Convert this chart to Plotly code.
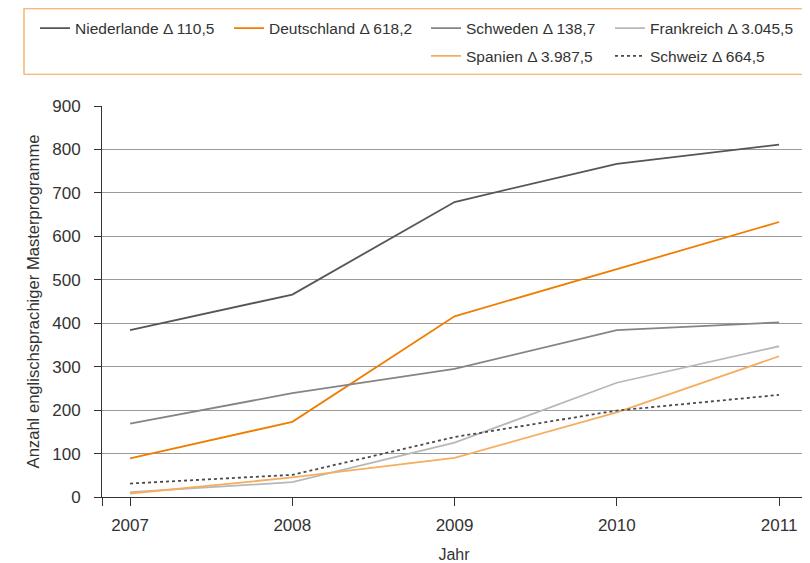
import plotly.graph_objects as go

# Jahre und Anzahl englischsprachiger Masterprogramme je Land
years = [2007, 2008, 2009, 2010, 2011]
niederlande = [384, 466, 679, 767, 811]
deutschland = [89, 173, 416, 525, 633]
schweden = [169, 239, 295, 384, 402]
frankreich = [11, 34, 125, 263, 347]
spanien = [8, 45, 90, 195, 324]
schweiz = [31, 51, 138, 199, 235]

names = ['Niederlande Δ 110,5', 'Deutschland Δ 618,2', 'Schweden Δ 138,7',
         'Frankreich Δ 3.045,5', 'Spanien Δ 3.987,5', 'Schweiz Δ 664,5']
series = [niederlande, deutschland, schweden, frankreich, spanien, schweiz]
colors = ['#555555', '#ef7d00', '#858585', '#b8b8b8', '#f6ad5f', '#4a4a4a']
dashes = ['solid', 'solid', 'solid', 'solid', 'solid', 'dot']

# page body has an 8px margin, so the figure is drawn 8px smaller/shifted
OFF = 8
W, H = 810 - OFF, 563 - OFF
ml, mr, mt, mb = 102 - OFF, 4, 103 - OFF, 66
ph = H - mt - mb
pw = W - ml - mr

x_lo, x_hi = 2006.827, 2011.166

# legend positions in page pixels (left of item, vertical centre)
leg_px = [(35, 25), (229, 25), (426, 25), (610, 25), (426, 53), (610, 53)]

FAM = 'Liberation Sans, Arial, sans-serif'
TXT = '#333333'

fig = go.Figure()
for i, (nm, ys) in enumerate(zip(names, series)):
    key = 'legend' if i == 0 else f'legend{i + 1}'
    fig.add_trace(go.Scatter(x=years, y=ys, name=nm, mode='lines',
                             line=dict(color=colors[i], width=1.8, dash=dashes[i]),
                             legend=key))

legends = {}
for i, (lx, ly) in enumerate(leg_px):
    key = 'legend' if i == 0 else f'legend{i + 1}'
    legends[key] = dict(x=(lx - OFF - ml) / pw, y=(H - mb - (ly - OFF)) / ph,
                        xanchor='left', yanchor='middle', orientation='h',
                        bgcolor='rgba(0,0,0,0)', borderwidth=0,
                        font=dict(family=FAM, color=TXT, size=15.5))

fig.update_layout(
    width=W, height=H,
    margin=dict(l=ml, r=mr, t=mt, b=mb),
    plot_bgcolor='white', paper_bgcolor='white',
    font=dict(family=FAM, color=TXT, size=17),
    showlegend=True,
    **legends,
    xaxis=dict(range=[x_lo, x_hi],
               tickvals=[x_lo] + years + [x_hi],
               ticktext=[''] + [str(y) for y in years] + [''],
               tickfont=dict(family=FAM, color=TXT, size=17),
               ticks='outside', ticklen=8, tickcolor='#333333', tickwidth=1,
               ticklabelstandoff=5,
               showgrid=False, showline=True, linecolor='#333333', linewidth=1,
               zeroline=False,
               title=dict(text='Jahr', standoff=15,
                          font=dict(family=FAM, color=TXT, size=16)),
               automargin=False),
    yaxis=dict(range=[0, 900], dtick=100,
               tickfont=dict(family=FAM, color=TXT, size=17),
               ticks='outside', ticklen=7, tickcolor='#333333', tickwidth=1,
               ticklabelstandoff=10,
               showgrid=True, gridcolor='#9a9a9a', gridwidth=1,
               showline=True, linecolor='#333333', linewidth=1, mirror=True,
               zeroline=False,
               title=dict(text='Anzahl englischsprachiger Masterprogramme',
                          standoff=8, font=dict(family=FAM, color=TXT, size=16.6)),
               automargin=False),
)

# orange frame around the legend
fig.add_shape(type='rect', xref='paper', yref='paper',
              x0=(24 - OFF - ml) / pw, x1=(805 - OFF - ml) / pw,
              y0=(H - mb - (71 - OFF)) / ph, y1=(H - mb - (5 - OFF)) / ph,
              line=dict(color='#f4a24a', width=1.2), fillcolor='rgba(0,0,0,0)')

fig.write_html("out.html")
